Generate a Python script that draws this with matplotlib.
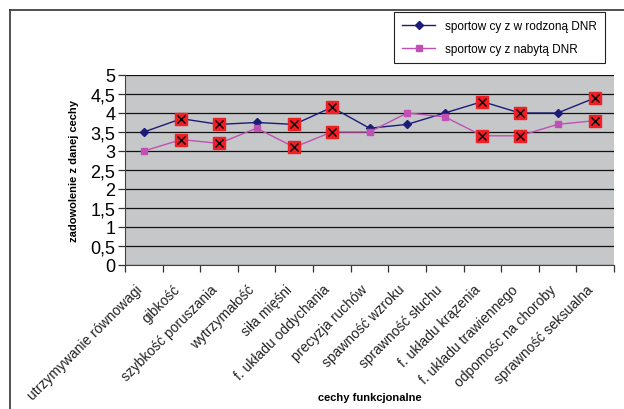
import matplotlib
matplotlib.use("Agg")
import matplotlib.pyplot as plt
from matplotlib.lines import Line2D
from matplotlib.ticker import FuncFormatter, MultipleLocator
import numpy as np

plt.rcParams["font.family"] = ["Liberation Sans", "DejaVu Sans"]

# ---------------------------------------------------------------------------
# Data
# ---------------------------------------------------------------------------
categories = [
    "utrzymywanie równowagi", "gibkość", "szybkość poruszania",
    "wytrzymałość", "siła mięśni", "f. układu oddychania",
    "precyzja ruchów", "spawność wzroku", "sprawność słuchu",
    "f. układu krązenia", "f. układu trawiennego", "odpomośc na choroby",
    "sprawność seksualna",
]
wrodzona = [3.5, 3.85, 3.7, 3.75, 3.7, 4.15, 3.6, 3.7, 4.0, 4.3, 4.0, 4.0, 4.4]
nabyta = [3.0, 3.3, 3.2, 3.6, 3.1, 3.5, 3.5, 4.0, 3.9, 3.4, 3.4, 3.7, 3.8]
# categories marked with red boxes in the original
marked = [1, 2, 4, 5, 9, 10, 12]

series_labels = ["sportow cy z w rodzoną DNR", "sportow cy z nabytą DNR"]

# ---------------------------------------------------------------------------
# Style
# ---------------------------------------------------------------------------
BLUE = "#1c1c78"
PINK = "#c050b4"
RED = "#ee2026"
BG = "#c6c7c9"

W, H = 624, 410
fig = plt.figure(figsize=(W / 100, H / 100), dpi=100)
fig.patch.set_facecolor("white")

ax = fig.add_axes([125 / W, 1 - 266 / H, 489 / W, 190 / H])
ax.set_facecolor(BG)

x = np.arange(len(categories))
ax.plot(x, wrodzona, color=BLUE, lw=1.0, marker="D", ms=4.5, zorder=3,
        label=series_labels[0])
ax.plot(x, nabyta, color=PINK, lw=1.0, marker="s", ms=5, zorder=3,
        label=series_labels[1])

# red highlight boxes with a cross
for vals in (wrodzona, nabyta):
    mx = [x[i] for i in marked]
    my = [vals[i] for i in marked]
    ax.plot(mx, my, ls="none", marker="s", ms=8, mfc=RED, mec=RED, zorder=4)
    ax.plot(mx, my, ls="none", marker="x", ms=5.5, mec="black", mew=1.0,
            zorder=5)

ax.set_xlim(-0.5, len(categories) - 0.5)
ax.set_ylim(0, 5)
ax.yaxis.set_major_locator(MultipleLocator(0.5))
ax.yaxis.set_major_formatter(
    FuncFormatter(lambda v, _: f"{v:g}".replace(".", ",")))
ax.grid(axis="y", color="#111111", lw=0.9, zorder=1)
ax.set_axisbelow(True)

# category boundaries as ticks, labels at centres
ax.set_xticks(np.arange(len(categories) + 1) - 0.5)
ax.set_xticklabels([])
for i, name in enumerate(categories):
    ax.annotate(name, xy=(x[i], 0), xycoords=("data", "axes fraction"),
                xytext=(-9, -17), textcoords="offset pixels",
                ha="right", va="top", rotation=45, rotation_mode="anchor",
                fontsize=10, color="#222222")
ax.tick_params(axis="x", which="major", length=5, width=0.9, color="#333333")
ax.tick_params(axis="y", length=5, width=0.9, labelsize=13, pad=2,
               color="#333333")

for side in ("top", "right"):
    ax.spines[side].set_visible(False)
ax.spines["left"].set_color("#444444")
ax.spines["bottom"].set_color("#444444")

ax.set_ylabel("zadowolenie z danej cechy", fontsize=8, fontweight="bold",
              labelpad=8)
fig.text(370 / W, 1 - 398 / H, "cechy funkcjonalne", ha="center",
         va="center", fontsize=8, fontweight="bold")

# legend box (top right)
leg = ax.legend(loc="upper left",
                bbox_to_anchor=(394 / W, 1 - 63 / H, 211 / W, 50 / H),
                bbox_transform=fig.transFigure, mode="expand",
                fontsize=8.5, frameon=True, fancybox=False, framealpha=1,
                edgecolor="#222222", handlelength=2.8, borderpad=0.7,
                labelspacing=0.9, borderaxespad=0)
leg.get_frame().set_linewidth(0.8)

# outer frame (top and left edges visible)
fig.add_artist(Line2D([10 / W, 1], [1 - 11 / H, 1 - 11 / H],
                      transform=fig.transFigure, color="#333333", lw=1.2))
fig.add_artist(Line2D([10 / W, 10 / W], [0, 1 - 11 / H],
                      transform=fig.transFigure, color="#333333", lw=1.2))

fig.savefig("out.png", dpi=100, facecolor="white")
